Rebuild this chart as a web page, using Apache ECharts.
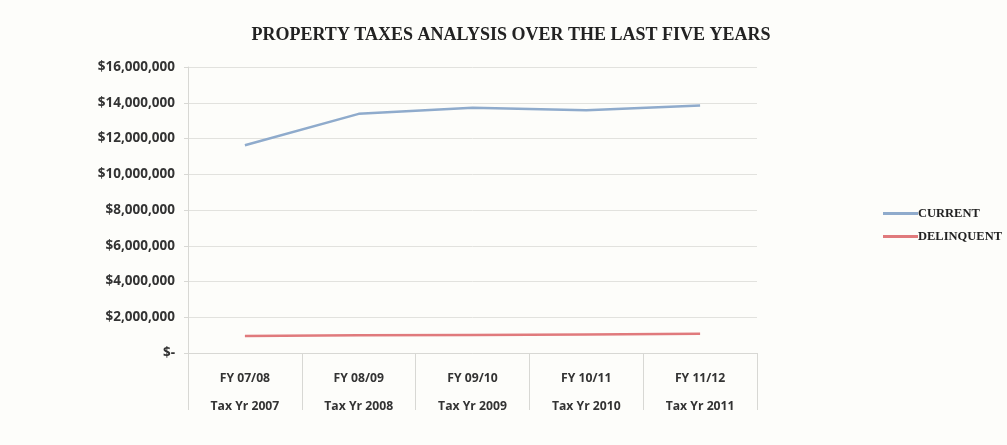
<!DOCTYPE html>
<html><head><meta charset="utf-8">
<script src="https://cdn.jsdelivr.net/npm/echarts@6/dist/echarts.min.js"></script>
<style>html,body{margin:0;padding:0;background:#fdfdfa;}#c{width:1007px;height:445px;}</style>
</head><body><div id="c"></div>
<script>
const fyLabels = ['FY 07/08','FY 08/09','FY 09/10','FY 10/11','FY 11/12'];
const taxYrLabels = ['Tax Yr 2007','Tax Yr 2008','Tax Yr 2009','Tax Yr 2010','Tax Yr 2011'];
const currentValues = [11620000, 13380000, 13720000, 13580000, 13850000];
const delinquentValues = [950000, 990000, 1010000, 1040000, 1070000];
const yTicks = {min: 0, max: 16000000, interval: 2000000};

const chart = echarts.init(document.getElementById('c'), null, {renderer: 'canvas'});
function fmt(v){ return v === 0 ? '$-' : '$' + v.toLocaleString('en-US'); }
chart.setOption({
  backgroundColor: '#fdfdfa',
  animation: false,
  title: {
    text: 'PROPERTY TAXES ANALYSIS OVER THE LAST FIVE YEARS',
    left: 506, textAlign: 'center', top: 21,
    textStyle: {fontFamily: 'Liberation Serif', fontWeight: 'bold', fontSize: 18, color: '#222'}
  },
  legend: {
    orient: 'vertical', left: 878, top: 202, itemGap: 10,
    itemWidth: 35, itemHeight: 3, icon: 'rect',
    textStyle: {fontFamily: 'Liberation Serif', fontWeight: 'bold', fontSize: 12.5, color: '#222', padding: [0,0,0,-5]},
    data: ['CURRENT','DELINQUENT']
  },
  grid: {left: 188, right: 250, top: 67, bottom: 92, containLabel: false},
  xAxis: {
    type: 'category', boundaryGap: true,
    data: fyLabels.map((f, i) => f + '\n' + taxYrLabels[i]),
    axisLine: {show: true, lineStyle: {color: '#d8d8d4', width: 1}},
    axisTick: {show: true, interval: 0, length: 57, lineStyle: {color: '#d8d8d4'}},
    axisLabel: {
      interval: 0, margin: 12,
      fontFamily: 'Open Sans', fontWeight: 'bold', fontSize: 12.2, color: '#333', lineHeight: 28
    }
  },
  yAxis: {
    type: 'value', min: yTicks.min, max: yTicks.max, interval: yTicks.interval,
    axisLine: {show: true, lineStyle: {color: '#d8d8d4'}},
    axisTick: {show: true, length: 4, lineStyle: {color: '#d8d8d4'}},
    splitLine: {show: true, lineStyle: {color: '#e2e2de', width: 1}},
    axisLabel: {
      formatter: fmt, margin: 13,
      fontFamily: 'Open Sans', fontWeight: 'bold', fontSize: 13.5, color: '#333'
    }
  },
  series: [
    {name: 'CURRENT', type: 'line', data: currentValues, symbol: 'none', smooth: false,
     lineStyle: {color: '#8fabcc', width: 2.5}, itemStyle: {color: '#8fabcc'}},
    {name: 'DELINQUENT', type: 'line', data: delinquentValues, symbol: 'none', smooth: false,
     lineStyle: {color: '#e07a7c', width: 2.5}, itemStyle: {color: '#e07a7c'}}
  ]
});
</script></body></html>
